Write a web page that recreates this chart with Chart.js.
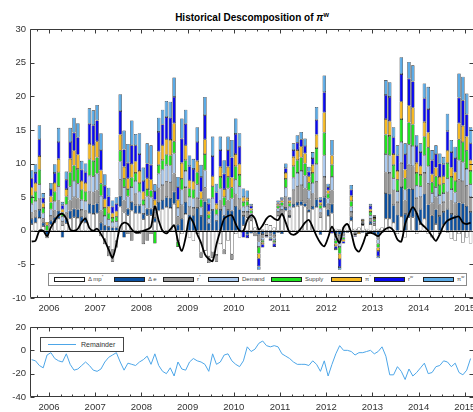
<!DOCTYPE html>
<html>
<head>
<meta charset="utf-8">
<script src="https://cdn.jsdelivr.net/npm/chart.js@4.4.1/dist/chart.umd.min.js"></script>
<style>
  html, body { margin: 0; padding: 0; background: #fff; overflow: hidden; }
  body { width: 473px; height: 412px; position: relative; font-family: "Liberation Sans", Arial, sans-serif; }
  canvas { position: absolute; left: 0; }
  #topChart { top: 0; }
  #bottomChart { top: 316px; }
  .title { position: absolute; top: 12px; left: 0; width: 504px; text-align: center; font-weight: bold; font-size: 10px; line-height: 12px; color: #000; }
  .title sup, .legend sup { font-size: 70%; line-height: 0; }
  .legend { position: absolute; box-sizing: border-box; background: #fff; border: 1px solid #8a8a8a; }
  .legend .patch { position: absolute; box-sizing: border-box; width: 31px; height: 5px; top: 3px; border: 1px solid #222; }
  .legend .lbl { position: absolute; top: 1px; font-size: 6px; line-height: 8px; color: #444; white-space: nowrap; }
  #remLegend { border-color: #444; }
  #remLegend .line { position: absolute; left: 7px; top: 6px; width: 28px; height: 0; border-top: 1px solid #4da6e8; }
  #remLegend .lbl { left: 40px; top: 2px; font-size: 7px; line-height: 9px; color: #333; }
</style>
</head>
<body>
<div class="title">Historical Descomposition of <i>π</i><sup>w</sup></div>
<canvas id="topChart" width="500" height="318"></canvas>
<canvas id="bottomChart" width="500" height="96"></canvas>
<div class="legend" id="topLegend" style="left:48px; top:273px; width:419px; height:13px;"></div>
<div class="legend" id="remLegend" style="left:40px; top:337px; width:84px; height:15px;"><div class="line"></div><div class="lbl">Remainder</div></div>

<script>
// monthly data, Aug 2005 .. Feb 2015
const firstYear = 2005;
const firstMonth = 8;
const yearTicks = [2006, 2007, 2008, 2009, 2010, 2011, 2012, 2013, 2014, 2015];

const seriesNames = ["Δ mp<sup>*</sup>", "Δ e", "r<sup>*</sup>", "Demand", "Supply", "π<sup>*</sup>", "r<sup>w</sup>", "π<sup>w</sup>"];
const seriesColors = ["#ffffff", "#0b50a0", "#9a9a9a", "#a9c9ef", "#1ee31e", "#f5b820", "#0a0af0", "#5aaae6"];

const dMp = [1.0, 1.2, 1.9, 0.7, 0, 0.9, 1.2, 1.8, 0.8, 1.1, 1.8, 2.0, 1.9, 1.3, 1.2, 2.6, 2.5, 2.6,
  -0.8, -1.2, -2.4, -2.8, -1.5,
  3.6, 2.7, 2.3, 3.0, 2.6, 2.6, 1.7, 2.3, 2.3, 1.3, 3.0, 3.2, 3.5, 3.4, 4.0, -1.6, -0.5, 2.5,
  -1.0, -1.5, -0.5, -3.2, -3.0, -3.8, -3.2, -3.6, -2.0, -2.8, -1.5, -3.5, -0.5, -1.0, 0.8,
  2.0, 1.5, 0.5, 0.3, 0.2, 1.0, 0.8, 0.5, 2.2, 2.4,
  3.0, 2.0, 3.5, 3.7, 3.8, 3.6, 2.8, 3.2, 3.5, 2.0, 3.5, 2.2, 2.6,
  0.3, 0.2, 0.5, 1.0, 1.5, 0.3, 0.5, 0.8, 0.3, 1.0, 0.8, 0.3, 0.5,
  1.8, 1.8, 1.2, -0.5, 2.1, -1.0, 2.0, 2.0, -0.5, 1.0, 1.8, -0.5, -1.0, 1.0, -0.5, 0.9, -0.3, -1.2, -1.5, -0.5, -1.8, -1.0, -1.9];
const dE = [0.8, 0.8, 1.2, 0.5, -0.6, 0.6, 0.8, 1.2, -1.0, 0.7, 1.2, 1.3, 1.3, 0.8, 0.8, 1.4, 1.4, 1.5,
  1.2, 0.8, 0.6, 0.5, 0.5,
  1.6, -1.0, 1.0, 1.3, 1.2, 1.2, 0.8, 1.0, 1.0, 0.6, 1.3, 1.4, 1.5, 1.5, 1.8, 0.9, 1.8, 1.8,
  2.4, 2.3, 3.4, 2.2, 4.4, 1.1, 3.1, 1.5, 3.1, 2.3, 3.1, 3.0, 3.7, 3.2, 1.4,
  -0.6, -0.4, -0.3, -0.6, -0.5, -0.3, -0.4, -0.6, -0.3, -0.5,
  0.4, 0.2, 0.5, 0.6, 0.6, 0.5, 0.4, 0.5, 1.2, -0.6, 1.5, 1.0, 1.4,
  -0.5, -0.6, -0.4, -0.3, 0.6, -0.3, -0.2, -0.3, -0.3, 0.4, -0.5, -0.7, -0.3,
  3.8, 3.7, 2.6, 2.4, 4.4, 2.5, 4.3, 4.2, 2.7, 2.2, 3.7, 3.9, 2.3, 2.2, 2.2, 1.9, 3.2, 2.5, 2.3, 4.2, 4.1, 3.7, 2.8];
const rStar = [0.9, 1.0, 1.6, 0.6, -0.5, 0.7, 1.0, 1.5, 0.6, 0.9, 1.5, 1.7, 1.6, 1.0, 1.0, 1.8, 1.8, 1.9,
  1.8, -0.8, -1.4, -1.8, -1.0,
  2.4, 1.8, -0.5, -1.5, 1.7, -0.5, -2.0, -1.5, -0.5, 0.8, 2.0, 2.2, 2.3, 2.3, 2.7, 1.2, 2.0, 2.2,
  1.1, 1.1, 1.5, -0.8, 2.0, -1.0, -0.8, -1.0, 1.4, -0.7, 1.4, -0.8, 1.7, 1.5, 0.6,
  0.8, 0.5, -0.5, -1.0, -0.5, -0.3, -0.3, -0.4, 0.6, 0.7,
  1.6, 0.8, 2.1, 2.3, 2.4, 2.2, 1.5, 1.8, 2.6, 0.7, 3.0, 0.8, 2.0,
  -0.5, -1.0, -0.3, 0, 0.7, -0.2, 0, 0.2, -0.2, 0.4, 0.3, -0.6, 0,
  3.1, 3.1, 2.2, 1.9, 3.6, 2.0, 3.5, 3.4, 2.2, 1.8, 3.1, 3.1, 1.8, 1.8, 1.7, 1.5, 2.5, 2.0, 1.8, 3.4, 3.3, 3.0, 2.2];
const demand = [1.3, 1.4, 2.2, 0.8, 0, 1.0, 1.4, 2.1, 0.7, 1.2, 2.1, 2.4, 2.2, 1.5, 1.4, 2.4, 2.4, 2.5,
  2.2, 1.4, 1.1, 0.8, 0.9,
  2.7, 2.0, 1.8, 2.2, 1.9, 2.0, 1.3, 1.8, 1.7, 1.0, 2.2, 2.3, 2.5, 2.5, 3.0, 1.3, 2.3, 2.4,
  1.5, 1.4, 2.0, 1.3, 2.6, 0.7, 1.8, 0.9, 1.8, 1.4, 1.8, 1.8, 2.2, 1.9, 0.8,
  0.9, 0.6, 0, -0.8, -0.4, -0.2, -0.3, -0.4, 0.5, 0.6,
  1.4, 0.6, 1.8, 2.0, 2.1, 1.9, 1.3, 1.6, 2.6, 0.6, 3.2, 0.8, 2.0,
  -0.4, -0.8, -0.3, 0, 0.8, -0.2, 0, 0.2, 0, 0.5, 0.3, -0.6, 0,
  2.7, 2.6, 1.8, 1.6, 3.1, 1.6, 3.0, 3.0, 1.8, 1.6, 2.6, 2.6, 1.5, 1.5, 1.4, 1.3, 2.1, 1.7, 1.6, 2.9, 2.8, 2.5, 1.9];
const supply = [1.2, 1.4, 2.2, 0.8, 0.8, 1.0, 1.4, 2.1, 0.6, 1.2, 2.1, 2.3, 2.2, 1.5, 1.4, 2.4, 2.3, 2.4,
  1.8, 1.2, 0.9, 0.6, 0.7,
  1.6, 1.2, 1.1, 1.4, 1.2, 1.3, 0.8, 1.1, 1.0, -1.9, 1.3, 1.4, 1.5, 1.5, 1.8, -0.8, 1.6, 1.6,
  1.3, 1.3, 1.8, 1.2, 2.4, 0.6, 1.7, 0.8, 1.7, 1.3, 1.7, 1.6, 2.0, 1.7, 0.7,
  0.7, 0.4, 0, -1.0, -0.3, 0, -0.2, -0.3, 0.4, 0.5,
  1.3, 0.5, 1.7, 1.9, 2.0, 1.8, 1.2, 1.5, 2.4, 0.5, 3.4, 0.7, 1.8,
  -0.5, -1.0, -0.3, 0, 0.8, 0, 0, 0.2, -0.1, 0.5, 0.3, -0.6, 0,
  2.9, 2.9, 2.0, 1.7, 3.4, 1.7, 3.3, 3.2, 1.9, 1.7, 2.8, 2.8, 1.6, 1.6, 1.5, 1.4, 2.3, 1.8, 1.7, 3.1, 3.0, 2.7, 2.0];
const piStar = [1.2, 1.3, 2.0, 0.7, 0.5, 0.9, 1.3, 2.0, 0.5, 1.1, 2.0, 2.2, 2.1, 1.3, 1.3, 2.3, 2.3, 2.4,
  2.0, 1.3, 1.0, 0.7, 0.8,
  2.4, 1.8, 1.6, 2.0, 1.7, 1.8, 1.2, 1.6, 1.6, 0.9, 2.0, 2.2, 2.3, 2.3, 2.7, 1.2, 2.4, 2.2,
  1.2, 1.2, 1.7, 1.1, 2.2, 0.5, 1.5, 0.8, 1.5, 1.2, 1.5, 1.5, 1.8, 1.6, 0.7,
  0.5, 0.3, 0, -0.7, -0.3, 0, 0, -0.2, 0.3, 0.3,
  0.9, 0.4, 1.4, 1.5, 1.6, 1.5, 0.9, 1.2, 2.0, 0.4, 3.0, 0.5, 1.4,
  -0.4, -0.8, -0.3, 0, 0.8, 0, -0.3, 0.2, 0, 0.4, 0.2, -0.5, 0,
  2.3, 2.2, 1.6, 1.3, 2.6, 1.3, 2.5, 2.5, 1.5, 1.3, 2.2, 2.2, 1.2, 1.3, 1.2, 1.1, 1.8, 1.4, 1.3, 2.4, 2.4, 2.1, 1.6];
const rWorld = [1.4, 1.5, 2.5, 0.8, 0, 1.1, 1.5, 2.5, 0.6, 1.4, 2.5, 2.7, 2.6, 1.7, 1.6, 3.0, 3.0, 3.1,
  3.0, 2.0, 1.5, 1.0, 1.1,
  3.5, 2.6, 2.3, 2.8, 2.4, 2.5, 1.6, 2.2, 2.2, 1.3, 2.9, 3.1, 3.3, 3.3, 3.9, 1.9, 3.6, 3.2,
  2.1, 1.9, 2.8, 2.2, 3.6, 1.1, 3.0, 1.7, 2.5, 2.3, 2.5, 3.0, 3.0, 2.6, -1.0,
  -0.5, 0.4, 0, -1.2, -0.5, -0.2, -0.3, -0.5, 0.2, 0.2,
  0.7, 0.2, 1.0, 1.1, 1.1, 1.1, 0.7, 1.0, 2.2, 0.4, 3.0, 0.5, -0.4,
  -0.4, -1.2, -0.3, 0, 0.9, -0.2, 0, 0.1, -0.2, 0.5, 0.2, -0.8, 0,
  3.6, 3.6, 2.5, 2.3, 4.1, 2.3, 4.0, 3.9, 2.5, 2.1, 3.5, 3.5, 2.1, 2.0, 2.0, 1.8, 2.9, 2.3, 2.1, 3.8, 3.8, 3.3, 2.5];
const piWorld = [1.2, 1.3, 2.1, 0.7, 0, 0.9, 1.3, 2.1, 0.5, 1.2, 2.1, 2.2, 2.1, 1.3, 1.3, 2.3, 2.2, 2.3,
  2.5, 1.7, 1.3, 0.9, 1.0,
  2.5, 2.8, 2.8, 3.7, 1.7, 3.1, 2.0, 3.0, 2.9, 1.0, 2.1, 2.2, 2.4, 2.4, 2.9, 1.5, 3.0, 2.1,
  1.6, 1.5, 2.2, 1.8, 2.7, 0.8, 2.9, 1.3, 2.0, 2.0, 2.0, 2.6, 2.3, 2.0, 1.3,
  1.1, 0.3, 0, -0.5, 0, 0, 0, 0, 0.3, 0.3,
  0.7, 0.3, 1.0, 1.1, 1.1, 1.1, 0.7, 0.9, 1.9, 0.4, 2.5, 0.5, 2.3,
  -0.2, -0.4, 0, 0, 0.7, 0, 0, 0.1, 0, 0.3, 0.2, -0.3, 0,
  2.2, 2.2, 1.5, 1.5, 2.5, 1.6, 2.5, 2.4, 1.6, 1.3, 2.2, 3.3, 1.5, 1.3, 1.5, 1.1, 2.6, 1.8, 1.7, 3.6, 3.5, 3.1, 2.4];

// observed pi^w (black line)
const piwObserved = [-1.6, -1.5, 0, 0, -0.8, 0.5, 1.5, 2.3, 2.5, 1.8,
  0.2, 0, 0.3, 1.3, 1.8, 0.4, 0, 0.3, -0.5, -1.5,
  -2.8, -4.0, -2.0, 0.6, 1.2, 1.0, 0.2, -0.3, -0.2, 0,
  0.2, 0.6, 3.6, 1.5, 0, -0.4, 0.2, 0.8, -1.5, -3.0,
  -1.0, 2.0, 1.2, -0.5, -1.8, -3.5, -4.2, -4.5, -2.0, 0,
  1.8, 2.2, 2.3, 1.0, 0, 0, 1.6, 2.3, 1.8, 0.2,
  0.8, 1.8, 2.2, 1.8, 1.6, 2.5, 1.2, -0.3, -0.6, -0.3,
  0.4, 1.2, 1.6, 0.5, -0.8, -1.8, -2.3, -1.0, 0.6, -0.8,
  -1.8, 0.5, 1.0, -0.3, -2.5, -3.1, -2.0, -0.5, -0.3, -0.5,
  -0.8, -0.2, 0.3, 0.5, 0, -1.3, -1.6, 1.0, 2.5, 3.5,
  2.6, 1.2, 0.6, 0, -0.8, -1.5, -0.5, 0.8, 1.5, 1.8,
  2.0, 2.1, 1.2, 1.0, 1.2];

const remainder = [-8, -9, -13, -15, -4, -2, -7, -9, -10, -3,
  -12, -17, -16, -13, -10, -13, -17, -18, -16, -10,
  -6, -4, -2, -10, -17, -11, -12, -13, -10, -8,
  -5, -12, -3, -13, -18, -20, -15, -22, -10, -16,
  -17, -10, -7, -9, -10, -12, -18, -3, -12, -10,
  -4, -3, -9, -12, -14, -9, 3, -1, 1, 6,
  8, 4, 3, 4, 3, -3, -5, -7, -10, -12,
  -12, -12, -13, -9, -12, -18, -9, -22, -12, -3,
  4, 0, 0, -1, -4, -2, -2, -1, 0, -3,
  -1, 3, -5, -21, -21, -14, -18, -25, -16, -22,
  -19, -15, -11, -20, -19, -14, -13, -9, -10, -14,
  -11, -19, -21, -17, -7];

const components = [dMp, dE, rStar, demand, supply, piStar, rWorld, piWorld];

// bar centres sit mid-month on a year axis
const monthX = dMp.map((v, i) => firstYear + (firstMonth - 1 + i + 0.5) / 12);
const xMin = 2005.589, xMax = 2015.199;
const tickFont = { family: "Liberation Sans, Arial, sans-serif", size: 9.5 };

const asPoints = vals => vals.map((v, i) => ({ x: monthX[i], y: v }));

// matlab style box with inward ticks
const axesBox = {
  id: "axesBox",
  afterDatasetsDraw(chart, args, opts) {
    if (!opts.zeroLine) return;
    const { ctx, chartArea: a, scales } = chart;
    const y0 = Math.round(scales.y.getPixelForValue(0)) + 0.5;
    ctx.save();
    ctx.strokeStyle = "#000";
    ctx.lineWidth = 1;
    ctx.beginPath();
    ctx.moveTo(a.left, y0);
    ctx.lineTo(a.right, y0);
    ctx.stroke();
    ctx.restore();
  },
  afterDraw(chart, args, opts) {
    const { ctx, chartArea: a, scales } = chart;
    const L = Math.round(a.left) + 0.5, R = Math.round(a.right) - 0.5;
    const T = Math.round(a.top) + 0.5, B = Math.round(a.bottom) - 0.5;
    ctx.save();
    ctx.strokeStyle = "#3a3a3a";
    ctx.lineWidth = 1;
    ctx.beginPath();
    ctx.rect(L, T, R - L, B - T);

    const xTick = (v, len) => {
      const px = Math.round(scales.x.getPixelForValue(v)) + 0.5;
      ctx.moveTo(px, B); ctx.lineTo(px, B - len);
      ctx.moveTo(px, T); ctx.lineTo(px, T + len);
    };
    yearTicks.forEach(v => xTick(v, 4));
    [2005].concat(yearTicks).forEach(yr => {
      [0.25, 0.5, 0.75].forEach(q => {
        if (yr + q > xMin && yr + q < xMax) xTick(yr + q, 2);
      });
    });

    scales.y.ticks.forEach(t => {
      const py = Math.round(scales.y.getPixelForValue(t.value)) + 0.5;
      ctx.moveTo(L, py); ctx.lineTo(L + 4, py);
      ctx.moveTo(R, py); ctx.lineTo(R - 4, py);
    });
    ctx.stroke();
    ctx.restore();
  }
};

function xAxis(height) {
  return {
    type: "linear",
    min: xMin,
    max: xMax,
    offset: false,
    stacked: true,
    grid: { display: false, drawTicks: false },
    border: { display: false },
    afterBuildTicks: s => { s.ticks = yearTicks.map(v => ({ value: v })); },
    afterFit: s => { s.height = height; },
    ticks: { autoSkip: false, maxRotation: 0, padding: 5, color: "#333", font: tickFont, callback: v => String(v) }
  };
}

function yAxis(min, max, step, stacked) {
  return {
    min, max, stacked,
    grid: { display: false, drawTicks: false },
    border: { display: false },
    afterFit: s => { s.width = 30; },
    ticks: { stepSize: step, padding: 4, color: "#333", font: tickFont }
  };
}

function drawTopChart() {
  const datasets = components.map((vals, k) => ({
    type: "bar",
    label: seriesNames[k],
    data: asPoints(vals),
    backgroundColor: seriesColors[k],
    borderColor: "#1a1a1a",
    borderWidth: 0.6,
    borderSkipped: false,
    barPercentage: 0.9,
    categoryPercentage: 1,
    stack: "bars",
    order: 1
  }));
  datasets.push({
    type: "line",
    label: "observed",
    data: asPoints(piwObserved),
    borderColor: "#000",
    borderWidth: 1.8,
    pointRadius: 0,
    tension: 0.3,
    stack: "line",
    order: 0
  });

  new Chart(document.getElementById("topChart"), {
    type: "bar",
    data: { datasets },
    options: {
      responsive: false,
      animation: false,
      devicePixelRatio: 1,
      layout: { padding: { top: 29, right: 26, left: 0, bottom: 0 } },
      plugins: { legend: { display: false }, tooltip: { enabled: false }, axesBox: { zeroLine: true } },
      scales: { x: xAxis(20), y: yAxis(-10, 30, 5, true) }
    },
    plugins: [axesBox]
  });
}

function drawBottomChart() {
  new Chart(document.getElementById("bottomChart"), {
    type: "line",
    data: {
      datasets: [{
        label: "Remainder",
        data: asPoints(remainder),
        borderColor: "#4da6e8",
        borderWidth: 1,
        pointRadius: 0,
        tension: 0
      }]
    },
    options: {
      responsive: false,
      animation: false,
      devicePixelRatio: 1,
      layout: { padding: { top: 11, right: 26, left: 0, bottom: 0 } },
      plugins: { legend: { display: false }, tooltip: { enabled: false }, axesBox: { zeroLine: false } },
      scales: { x: xAxis(15), y: yAxis(-40, 20, 20, false) }
    },
    plugins: [axesBox]
  });
}

function buildLegend() {
  const box = document.getElementById("topLegend");
  const lefts = [5, 65, 114, 159, 222, 282, 325, 374];
  seriesNames.forEach((name, k) => {
    const patch = document.createElement("div");
    patch.className = "patch";
    patch.style.left = lefts[k] + "px";
    patch.style.background = seriesColors[k];
    box.appendChild(patch);

    const lbl = document.createElement("div");
    lbl.className = "lbl";
    lbl.style.left = (lefts[k] + 34) + "px";
    lbl.innerHTML = name;
    box.appendChild(lbl);
  });
}

drawTopChart();
drawBottomChart();
buildLegend();
</script>
</body>
</html>
